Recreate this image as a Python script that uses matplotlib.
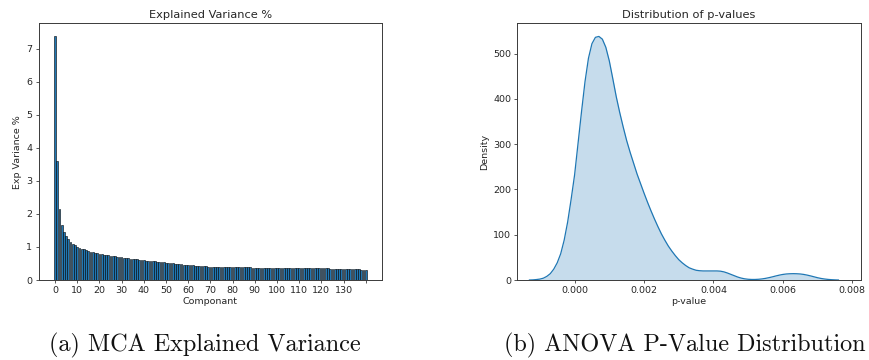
import matplotlib
matplotlib.use("Agg")
import matplotlib.pyplot as plt
import numpy as np

# ---------------- data ----------------
explained_variance = [
    7.40, 3.59, 2.15, 1.66, 1.45, 1.32, 1.23, 1.16, 1.10, 1.05,
    1.01, 0.98, 0.95, 0.925, 0.90, 0.88, 0.86, 0.84, 0.82, 0.805,
    0.79, 0.78, 0.77, 0.76, 0.75, 0.74, 0.73, 0.72, 0.71, 0.70,
    0.69, 0.68, 0.67, 0.66, 0.65, 0.64, 0.635, 0.625, 0.62, 0.61,
    0.60, 0.59, 0.585, 0.575, 0.57, 0.56, 0.55, 0.545, 0.535, 0.53,
    0.52, 0.515, 0.505, 0.50, 0.49, 0.485, 0.48, 0.47, 0.465, 0.46,
    0.45, 0.445, 0.44, 0.435, 0.43, 0.425, 0.42, 0.415, 0.41, 0.405,
    0.40, 0.40, 0.398, 0.396, 0.394, 0.392, 0.39, 0.389, 0.388, 0.387,
    0.386, 0.385, 0.384, 0.383, 0.382, 0.381, 0.38, 0.38, 0.379, 0.378,
    0.377, 0.376, 0.376, 0.375, 0.374, 0.374, 0.373, 0.372, 0.372, 0.371,
    0.37, 0.37, 0.369, 0.368, 0.367, 0.367, 0.366, 0.365, 0.364, 0.364,
    0.363, 0.362, 0.361, 0.36, 0.36, 0.359, 0.358, 0.357, 0.356, 0.355,
    0.355, 0.353, 0.351, 0.349, 0.347, 0.345, 0.343, 0.341, 0.339, 0.337,
    0.335, 0.333, 0.331, 0.329, 0.327, 0.325, 0.322, 0.319, 0.316, 0.313,
    0.31,
]
components = list(range(len(explained_variance)))
xtick_positions = [0, 10, 20, 30, 40, 50, 60, 70, 80, 90, 100, 110, 120, 130, 140]
xtick_labels = ["0", "10", "20", "30", "40", "50", "60", "70", "80", "90",
                "100", "110", "120", "130", ""]

pvalue_grid = [
    -0.0013, -0.0012, -0.0011, -0.0010, -0.0009, -0.0008, -0.0007, -0.0006,
    -0.0005, -0.0004, -0.0003, -0.0002, -0.0001, 0.0000, 0.0001, 0.0002,
    0.0003, 0.0004, 0.0005, 0.0006, 0.0007, 0.0008, 0.0009, 0.0010,
    0.0011, 0.0012, 0.0013, 0.0014, 0.0015, 0.0016, 0.0017, 0.0018,
    0.0019, 0.0020, 0.0021, 0.0022, 0.0023, 0.0024, 0.0025, 0.0026,
    0.0027, 0.0028, 0.0029, 0.0030, 0.0031, 0.0032, 0.0033, 0.0034,
    0.0035, 0.0036, 0.0037, 0.0038, 0.0039, 0.0040, 0.0041, 0.0042,
    0.0043, 0.0044, 0.0045, 0.0046, 0.0047, 0.0048, 0.0049, 0.0050,
    0.0051, 0.0052, 0.0053, 0.0054, 0.0055, 0.0056, 0.0057, 0.0058,
    0.0059, 0.0060, 0.0061, 0.0062, 0.0063, 0.0064, 0.0065, 0.0066,
    0.0067, 0.0068, 0.0069, 0.0070, 0.0071, 0.0072, 0.0073, 0.0074,
    0.0075, 0.0076,
]
pvalue_density = [
    0, 0.3, 1, 2, 4, 8, 14, 24,
    38, 58, 88, 128, 178, 232, 302, 372,
    438, 490, 522, 536, 538, 532, 514, 484,
    445, 405, 370, 338, 308, 282, 258, 234,
    213, 192, 172, 153, 135, 118, 102, 88,
    75, 64, 54, 45, 38, 32, 27, 24,
    21.5, 20.5, 20, 20, 20, 20, 20, 19.5,
    18, 15.5, 12.5, 9.5, 6.5, 4.2, 2.6, 1.6,
    1.2, 1.2, 1.6, 2.4, 3.6, 5.2, 7.0, 9.0,
    10.8, 12.3, 13.3, 13.8, 14, 13.8, 13.3, 12.3,
    10.8, 9, 7, 5, 3.4, 2.2, 1.3, 0.7,
    0.3, 0,
]
pvalue_ticks = [0.000, 0.002, 0.004, 0.006, 0.008]
density_ticks = [0, 100, 200, 300, 400, 500]

# ---------------- figure ----------------
W, H = 870, 360
fig = plt.figure(figsize=(W / 100, H / 100), dpi=100)

def box(x0, y0, x1, y1):
    return [x0 / W, 1 - y1 / H, (x1 - x0) / W, (y1 - y0) / H]

TICK = 6.8
LAB = 6.8
TIT = 8.2
TXT = "#262626"
SPINE = "#3a3a3a"

def style(ax):
    for s in ax.spines.values():
        s.set_linewidth(0.7)
        s.set_color(SPINE)
    ax.tick_params(labelsize=TICK, width=0.6, length=2.4, pad=2,
                   color=SPINE, labelcolor=TXT)

# Left: explained variance bars
ax1 = fig.add_axes(box(38.5, 23.3, 382.3, 280))
ax1.bar(components, explained_variance, width=0.8, color="#1f77b4",
        edgecolor="black", linewidth=0.4)
ax1.set_xticks(xtick_positions)
ax1.set_xticklabels(xtick_labels)
ax1.set_title("Explained Variance %", fontsize=TIT, color=TXT, pad=4)
ax1.set_xlabel("Componant", fontsize=LAB, color=TXT, labelpad=1.5)
ax1.set_ylabel("Exp Variance %", fontsize=LAB, color=TXT, labelpad=3)
style(ax1)

# Right: KDE of p-values
ax2 = fig.add_axes(box(517.3, 23.3, 861, 280))
ax2.fill_between(pvalue_grid, pvalue_density, color="#1f77b4", alpha=0.25,
                 linewidth=0)
ax2.plot(pvalue_grid, pvalue_density, color="#1f77b4", linewidth=0.9)
ax2.set_xlim(-0.00165, 0.00825)
ax2.set_ylim(0, 567)
ax2.set_xticks(pvalue_ticks)
ax2.set_xticklabels([f"{t:.3f}" for t in pvalue_ticks])
ax2.set_yticks(density_ticks)
ax2.set_title("Distribution of p-values", fontsize=TIT, color=TXT, pad=4)
ax2.set_xlabel("p-value", fontsize=LAB, color=TXT, labelpad=1.5)
ax2.set_ylabel("Density", fontsize=LAB, color=TXT, labelpad=3)
style(ax2)

# Captions
fig.text(204.5 / W, 1 - 345 / H, "(a) MCA Explained Variance",
         family="cmr10", fontsize=17.4, ha="center", va="center", color="#111111")
fig.text(685 / W, 1 - 345 / H, "(b) ANOVA P-Value Distribution",
         family="cmr10", fontsize=17.4, ha="center", va="center", color="#111111")

fig.savefig("out.png", dpi=100, facecolor="white")
